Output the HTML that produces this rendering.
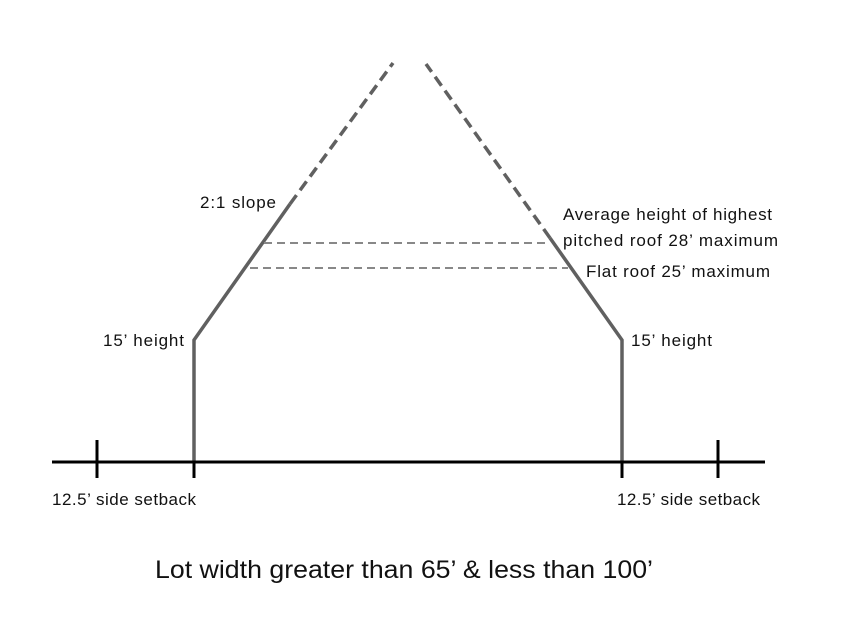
<!DOCTYPE html>
<html><head><style>
body{margin:0;background:#fff;}
svg text{font-family:"Liberation Sans",sans-serif;fill:#111;}
</style></head><body>
<svg width="856" height="616" viewBox="0 0 856 616" xmlns="http://www.w3.org/2000/svg">
<g stroke="#606060" stroke-width="3.5" fill="none">
<polyline points="194,462 194,340 290,204"/>
<line x1="290" y1="204" x2="393" y2="63" stroke-dasharray="11,6"/>
<polyline points="622,462 622,340 550,238"/>
<line x1="550" y1="238" x2="426" y2="64" stroke-dasharray="11,6"/>
</g>
<g stroke="#888" stroke-width="2" stroke-dasharray="8,5">
<line x1="264" y1="243" x2="550" y2="243"/>
<line x1="250" y1="268" x2="568" y2="268"/>
</g>
<g stroke="#000" stroke-width="3">
<line x1="52" y1="462" x2="765" y2="462"/>
<line x1="97" y1="440" x2="97" y2="478"/>
<line x1="718" y1="440" x2="718" y2="478"/>
<line x1="194" y1="462" x2="194" y2="478"/>
<line x1="622" y1="462" x2="622" y2="478"/>
</g>
<g font-size="17" lengthAdjust="spacingAndGlyphs">
<text x="200" y="208" textLength="76">2:1 slope</text>
<text x="563" y="220" textLength="209">Average height of highest</text>
<text x="563" y="246" textLength="215">pitched roof 28’ maximum</text>
<text x="586" y="277" textLength="184">Flat roof 25’ maximum</text>
<text x="103" y="346" textLength="81">15’ height</text>
<text x="631" y="346" textLength="81">15’ height</text>
<text x="52" y="505" textLength="144">12.5’ side setback</text>
<text x="617" y="505" textLength="143">12.5’ side setback</text>
</g>
<text x="155" y="578" font-size="25" textLength="498" lengthAdjust="spacingAndGlyphs">Lot width greater than 65’ &amp; less than 100’</text>
</svg>
</body></html>
